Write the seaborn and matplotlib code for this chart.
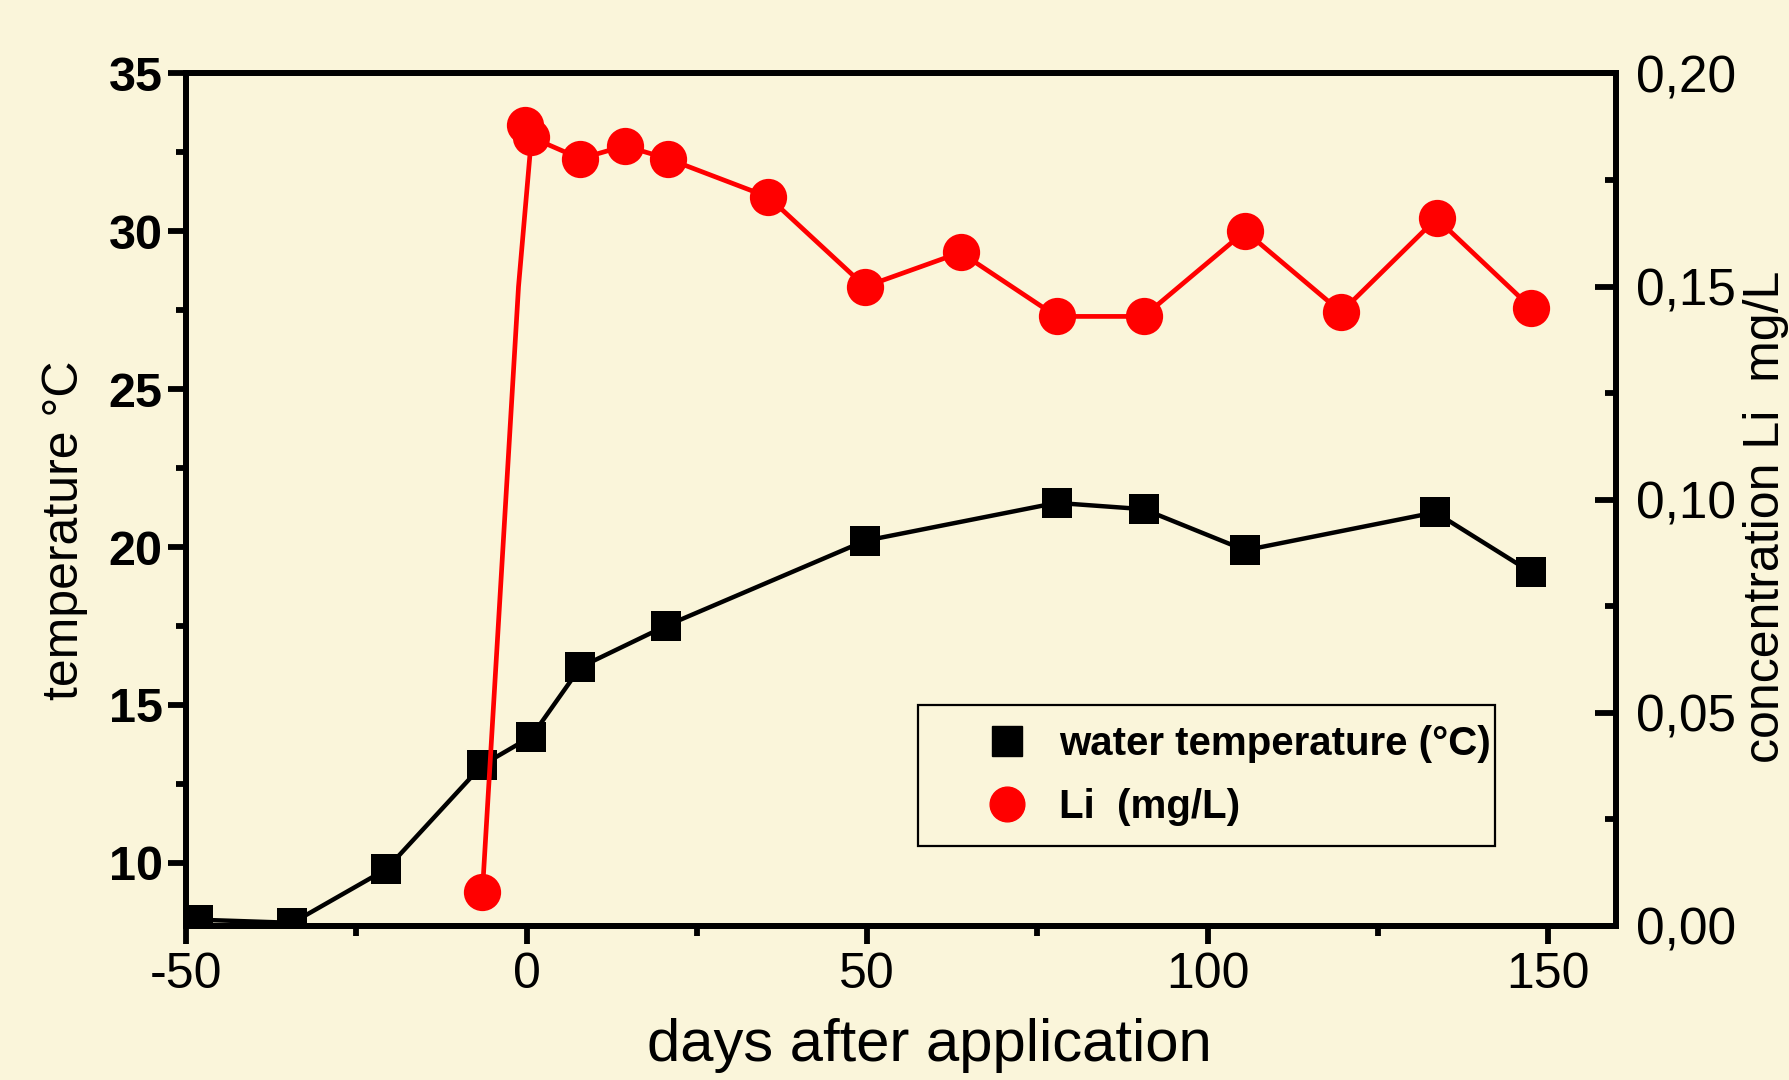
import numpy as np
import pandas as pd
import matplotlib
matplotlib.use("Agg")
import matplotlib.pyplot as plt
from matplotlib.ticker import MultipleLocator, FuncFormatter
from matplotlib.lines import Line2D
import seaborn as sns

BG = '#faf5da'

# water temperature (left axis)
temp_days = [-48.3, -34.4, -20.6, -6.5, 0.7, 7.9, 20.4, 49.7, 77.8, 90.6, 105.5, 133.4, 147.5]
temp_vals = [8.2, 8.1, 9.8, 13.1, 14.0, 16.2, 17.5, 20.2, 21.4, 21.2, 19.9, 21.1, 19.2]

# Li concentration (right axis), measured points
li_days = [-6.5, -0.2, 0.7, 7.9, 14.4, 20.7, 35.5, 49.7, 63.7, 77.8, 90.6, 105.5, 119.6, 133.6, 147.5]
li_vals = [0.008, 0.188, 0.185, 0.180, 0.183, 0.180, 0.171, 0.150, 0.158, 0.143, 0.143, 0.163, 0.144, 0.166, 0.145]
# the drawn Li line (has a kink with no marker just before day 0)
li_line_days = [-6.5, -1.2, 0.7, 7.9, 14.4, 20.7, 35.5, 49.7, 63.7, 77.8, 90.6, 105.5, 119.6, 133.6, 147.5]
li_line_vals = [0.008, 0.150, 0.185, 0.180, 0.183, 0.180, 0.171, 0.150, 0.158, 0.143, 0.143, 0.163, 0.144, 0.166, 0.145]

sns.set_style("white")
plt.rcParams['font.family'] = ['Liberation Sans', 'DejaVu Sans']
plt.rcParams['axes.unicode_minus'] = False
for k in ('text.color', 'axes.labelcolor', 'xtick.color', 'ytick.color', 'axes.edgecolor'):
    plt.rcParams[k] = 'black'

fig = plt.figure(figsize=(17.9, 10.8), dpi=100, facecolor=BG)
ax = fig.add_axes([0.104, 0.1426, 0.799, 0.7894], facecolor=BG)

sns.lineplot(x=temp_days, y=temp_vals, ax=ax, color='black', lw=3.2,
             marker='s', markersize=22, markeredgewidth=0, zorder=3)
ax.set_xlim(-50, 160)
ax.set_ylim(8, 35)

ax2 = ax.twinx()
sns.lineplot(x=li_line_days, y=li_line_vals, ax=ax2, color='red', lw=3.4, sort=False, zorder=3)
sns.scatterplot(x=li_days, y=li_vals, ax=ax2, color='red', s=720, linewidth=0, zorder=4)
ax2.set_ylim(0, 0.20)

for a in (ax, ax2):
    for s in a.spines.values():
        s.set_linewidth(4.2)
        s.set_color('black')
        s.set_visible(True)

ax.xaxis.set_major_locator(MultipleLocator(50))
ax.xaxis.set_minor_locator(MultipleLocator(25))
ax.yaxis.set_major_locator(MultipleLocator(5))
ax.yaxis.set_minor_locator(MultipleLocator(2.5))
ax.tick_params(axis='x', which='major', direction='out', length=13, width=4.2,
               labelsize=36, pad=6, top=False, bottom=True)
ax.tick_params(axis='x', which='minor', direction='out', length=7, width=4.2, top=False, bottom=True)
ax.tick_params(axis='y', which='major', direction='out', length=13, width=4.2,
               labelsize=35, pad=4, left=True, right=False)
ax.tick_params(axis='y', which='minor', direction='out', length=7, width=4.2, left=True, right=False)
for lbl in ax.get_yticklabels():
    lbl.set_fontweight('bold')

ax2.yaxis.set_major_locator(MultipleLocator(0.05))
ax2.yaxis.set_minor_locator(MultipleLocator(0.025))
ax2.yaxis.set_major_formatter(FuncFormatter(lambda v, p: f"{v:.2f}".replace('.', ',')))
ax2.tick_params(axis='y', which='major', direction='in', length=15, width=4.2,
                labelsize=37, pad=14, right=True, left=False)
ax2.tick_params(axis='y', which='minor', direction='in', length=8, width=4.2, right=True, left=False)

ax.set_xlabel('days after application', fontsize=43, labelpad=14)
ax.xaxis.label.set_x(0.52)
ax.set_ylabel('temperature °C', fontsize=36, labelpad=15)
ax.yaxis.label.set_y(0.464)
ax2.set_ylabel('concentration Li  mg/L', fontsize=36, labelpad=5)
ax2.yaxis.label.set_y(0.48)

handles = [Line2D([], [], ls='none', marker='s', color='black', markersize=22),
           Line2D([], [], ls='none', marker='o', color='red', markersize=25)]
leg = ax2.legend(handles, ['water temperature (°C)', 'Li  (mg/L)'],
                 loc='upper left', bbox_to_anchor=(0.512, 0.249, 0.403, 0.01), mode='expand',
                 borderaxespad=0, frameon=True, fancybox=False, edgecolor='black', facecolor=BG,
                 framealpha=1, prop={'weight': 'bold', 'size': 29},
                 handlelength=3.4, handletextpad=-0.4, labelspacing=0.62, borderpad=0.5)
leg.get_frame().set_linewidth(1.6)

fig.savefig('out.png', dpi=100, facecolor=BG)
